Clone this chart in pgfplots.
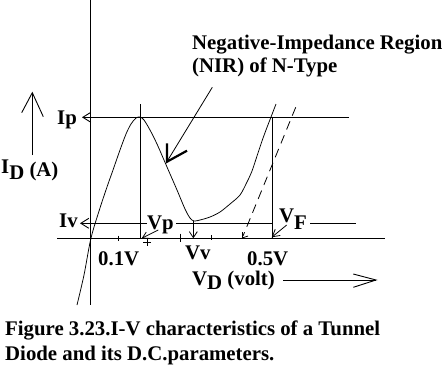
\documentclass[border=0pt]{standalone}
\usepackage{pgfplots}
\pgfplotsset{compat=1.18}
\usepackage{fontspec}
\setmainfont{Liberation Serif}
\usetikzlibrary{arrows.meta}

\begin{document}
\begin{tikzpicture}[every node/.style={font=\fontsize{20.8}{24}\selectfont\bfseries, inner sep=0pt},
  barb/.style={-{Straight Barb[length=8pt,width=10pt,line width=0.9pt]}}]
\begin{axis}[width=443pt,height=367pt,scale only axis,xmin=0,xmax=443,ymin=0,ymax=367,
  y dir=reverse,hide axis,clip=false,no markers]
\coordinate (bbA) at (axis cs:0,367);
\coordinate (bbB) at (axis cs:443,0);
% main axes
\addplot[black, line width=1.1pt] coordinates {(90.7,0) (90.7,305)};
\addplot[black, line width=1.1pt] coordinates {(57,238.3) (385,238.3)};
% Ip line
\draw[black, line width=1pt, barb] (axis cs:349,117.3) -- (axis cs:82,117.3);
% Iv line (broken around labels)
\draw[black, line width=1pt, barb] (axis cs:147,223.3) -- (axis cs:80,223.3);
\draw[black, line width=1pt] (axis cs:176,223.3) -- (axis cs:272,223.3);
\draw[black, line width=1pt] (axis cs:310,223.3) -- (axis cs:356,223.3);
% peak vertical line
\draw[black, line width=1pt] (axis cs:140,104) -- (axis cs:140,238.3);
% VF vertical line
\draw[black, line width=1pt] (axis cs:272,117.3) -- (axis cs:272,238.3);
% valley arrow
\draw[black, line width=0.9pt, -{Straight Barb[length=6pt,width=8pt,line width=0.8pt]}] (axis cs:193.3,221) -- (axis cs:193.3,238.3);
% Vp arrow
\draw[black, line width=0.8pt, -{Straight Barb[length=6pt,width=7pt,line width=0.8pt]}] (axis cs:158.3,230) -- (axis cs:141.7,238.3);
% VF arrow
\draw[black, line width=0.8pt, -{Straight Barb[length=7pt,width=8pt,line width=0.8pt]}] (axis cs:286.7,225) -- (axis cs:271.7,237.3);
% ticks
\draw[black, line width=1pt] (axis cs:118,235.5) -- (axis cs:118,241);
\draw[black, line width=1pt] (axis cs:180,233.5) -- (axis cs:180,241.5);
\draw[black, line width=1pt] (axis cs:211,235) -- (axis cs:211,240);
\draw[black, line width=0.9pt] (axis cs:147,237.5) -- (axis cs:147,246);
\draw[black, line width=0.9pt] (axis cs:143,242) -- (axis cs:151,242);
% characteristic curve
\addplot[black, line width=0.75pt, smooth, tension=0.5] coordinates {
(77,305) (84,275) (91,238) (100,208) (107,187) (113,170) (120,150) (126,134)
(131,124) (136,118) (140,117) (144,120) (150,130) (157,144) (167,167) (177,190)
(185,209) (190,218) (194,221) (200,220) (210,217) (220,212) (230,204) (240,195)
(247,182) (252,171) (257,156) (262,141) (266,130) (271,117) (276,104)};
% dashed forward characteristic
\addplot[black, line width=0.8pt, dash pattern=on 9pt off 6pt] coordinates {(295.7,107.3) (243,236)};
\draw[black, line width=0.8pt] (axis cs:242,238) -- (axis cs:242,232);
\draw[black, line width=0.8pt] (axis cs:242,238) -- (axis cs:248,236);
% NIR pointer
\draw[black, line width=0.8pt] (axis cs:212.3,87.3) -- (axis cs:166.7,162);
\draw[black, line width=2.2pt, line join=miter] (axis cs:167,143.3) -- (axis cs:167,161.7) -- (axis cs:187,150.7);
% I_D arrow
\draw[black, line width=0.9pt] (axis cs:32.3,155) -- (axis cs:32.3,92.7);
\draw[black, line width=0.9pt] (axis cs:21.7,112.7) -- (axis cs:32.3,92.7) -- (axis cs:43.3,116.7);
% V_D arrow
\draw[black, line width=0.9pt] (axis cs:283.3,280) -- (axis cs:376,280);
\draw[black, line width=0.9pt] (axis cs:353.3,274) -- (axis cs:376,280) -- (axis cs:353.3,287.3);
% labels
\node[anchor=base west] at (axis cs:192,49) {Negative-Impedance Region};
\node[anchor=base west] at (axis cs:192,72.7) {(NIR) of N-Type};
\node[anchor=base west] at (axis cs:57,124) {Ip};
\node[anchor=base west] at (axis cs:1,173) {I\raisebox{-6pt}{D} \raisebox{-3pt}{(A)}};
\node[anchor=base west] at (axis cs:59,227) {Iv};
\node[anchor=base west] at (axis cs:147,229) {Vp};
\node[anchor=base west] at (axis cs:279,222.7) {V\raisebox{-7pt}{F}};
\node[anchor=base west] at (axis cs:98,265) {0.1V};
\node[anchor=base west] at (axis cs:185,259) {Vv};
\node[anchor=base west] at (axis cs:247,265) {0.5V};
\node[anchor=base west] at (axis cs:192,285) {V\raisebox{-4pt}{D} (volt)};
\node[anchor=base west] at (axis cs:5,335) {Figure 3.23.I-V characteristics of a Tunnel};
\node[anchor=base west] at (axis cs:5,360) {Diode and its D.C.parameters.};
\end{axis}
\pgfresetboundingbox
\path[use as bounding box] (bbA) rectangle (bbB);
\end{tikzpicture}
\end{document}
